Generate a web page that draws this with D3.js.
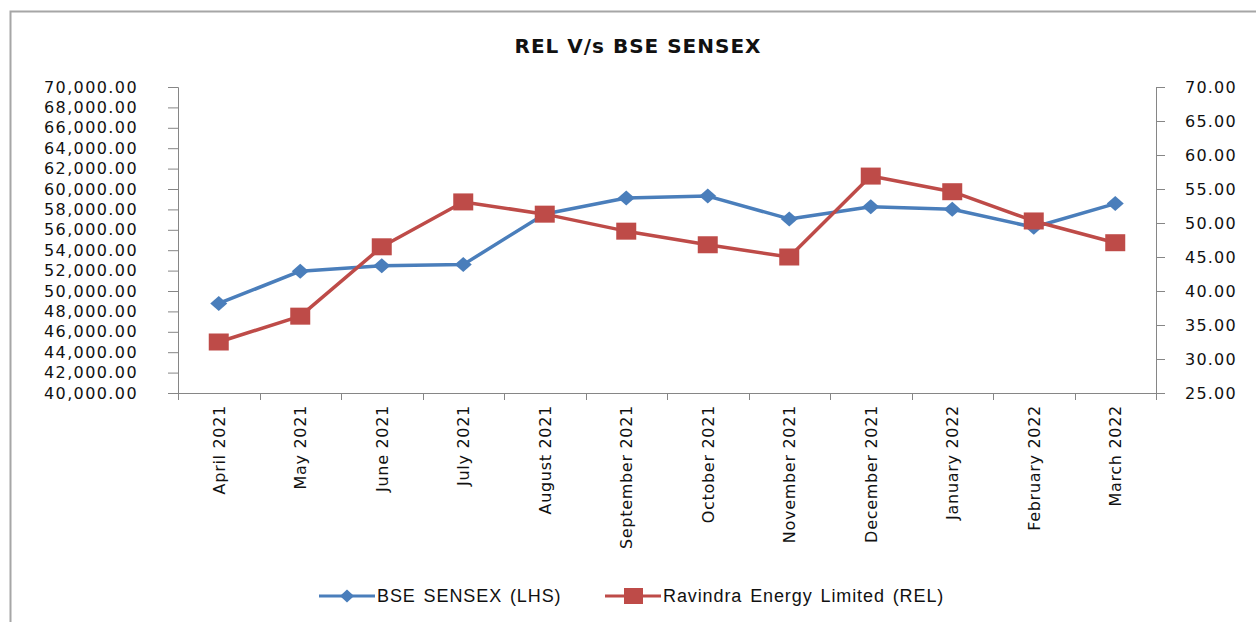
<!DOCTYPE html>
<html>
<head>
<meta charset="utf-8">
<script src="https://cdn.jsdelivr.net/npm/d3@7"></script>
<style>
  body { margin: 0; background: #fff; }
  svg { display: block; }
</style>
</head>
<body>
<div class="chart"></div>
<script>
// month labels + the two series
const months = ["April 2021", "May 2021", "June 2021", "July 2021", "August 2021", "September 2021",
  "October 2021", "November 2021", "December 2021", "January 2022", "February 2022", "March 2022"];
const sensex = [48782, 51937, 52482, 52587, 57552, 59126, 59307, 57065, 58254, 58014, 56247, 58569];
const relPrice = [32.5, 36.3, 46.5, 53.1, 51.3, 48.8, 46.8, 45.0, 56.9, 54.6, 50.3, 47.1];
const leftTicks = [40000, 42000, 44000, 46000, 48000, 50000, 52000, 54000, 56000, 58000,
  60000, 62000, 64000, 66000, 68000, 70000];
const rightTicks = [25, 30, 35, 40, 45, 50, 55, 60, 65, 70];
const seriesNames = ["BSE SENSEX (LHS)", "Ravindra Energy Limited (REL)"];

const width = 1256, height = 622;
const plot = { left: 178, right: 1156, top: 87, bottom: 393 };
const blue = "#4a7ebb", red = "#be4b48", axisCol = "#868686";
const font = "DejaVu Sans, Verdana, sans-serif";

const svg = d3.select("div.chart").append("svg")
  .attr("width", width)
  .attr("height", height);

// outer chart border (runs off the right / bottom edge in the original)
svg.append("rect")
  .attr("x", 10.5).attr("y", 11.5)
  .attr("width", width + 20).attr("height", height + 20)
  .attr("fill", "none")
  .attr("stroke", "#a6a6a6")
  .attr("stroke-width", 2);

svg.append("text")
  .attr("x", 638).attr("y", 53)
  .attr("text-anchor", "middle")
  .attr("font-family", font)
  .attr("font-weight", "bold")
  .attr("font-size", 20)
  .attr("letter-spacing", 1)
  .attr("fill", "#111")
  .text("REL V/s BSE SENSEX");

let x = d3.scaleBand().domain(months).range([plot.left, plot.right]);
let yLeft = d3.scaleLinear().domain([40000, 70000]).range([plot.bottom, plot.top]);
let yRight = d3.scaleLinear().domain([25, 70]).range([plot.bottom, plot.top]);
let cx = d => x(d) + x.bandwidth() / 2;

// left axis
let leftAxis = svg.append("g")
  .attr("transform", `translate(${plot.left},0)`)
  .call(d3.axisLeft(yLeft).tickValues(leftTicks).tickSize(10).tickPadding(30)
    .tickFormat(d3.format(",.2f")));

// right axis
let rightAxis = svg.append("g")
  .attr("transform", `translate(${plot.right},0)`)
  .call(d3.axisRight(yRight).tickValues(rightTicks).tickSize(9).tickPadding(20)
    .tickFormat(d3.format(".2f")));

[leftAxis, rightAxis].forEach(g => {
  g.select(".domain").attr("stroke", axisCol);
  g.selectAll(".tick line").attr("stroke", axisCol);
  g.selectAll(".tick text")
    .attr("font-family", font)
    .attr("font-size", 16)
    .attr("fill", "#111");
});
leftAxis.selectAll(".tick text").attr("letter-spacing", 1.4);
rightAxis.selectAll(".tick text").attr("letter-spacing", 1.2);

// category axis: ticks between months
let xAxis = svg.append("g");
xAxis.append("line")
  .attr("x1", plot.left).attr("x2", plot.right)
  .attr("y1", plot.bottom + 0.5).attr("y2", plot.bottom + 0.5)
  .attr("stroke", axisCol);
xAxis.selectAll("line.tk")
  .data(months.map(m => x(m)).concat([plot.right]))
  .enter().append("line")
  .attr("class", "tk")
  .attr("x1", d => Math.round(d) + 0.5).attr("x2", d => Math.round(d) + 0.5)
  .attr("y1", plot.bottom).attr("y2", plot.bottom + 7)
  .attr("stroke", axisCol);
xAxis.selectAll("text")
  .data(months)
  .enter().append("text")
  .attr("transform", d => `translate(${cx(d) + 6},${plot.bottom + 12}) rotate(-90)`)
  .attr("text-anchor", "end")
  .attr("font-family", font)
  .attr("font-size", 16)
  .attr("letter-spacing", 0.7)
  .attr("fill", "#111")
  .text(d => d);

// lines
let sensexLine = d3.line().x((d, i) => cx(months[i])).y(d => yLeft(d));
let relLine = d3.line().x((d, i) => cx(months[i])).y(d => yRight(d));

svg.append("path")
  .attr("d", sensexLine(sensex))
  .attr("fill", "none").attr("stroke", blue).attr("stroke-width", 3.5)
  .attr("stroke-linejoin", "round");
svg.append("path")
  .attr("d", relLine(relPrice))
  .attr("fill", "none").attr("stroke", red).attr("stroke-width", 3.5)
  .attr("stroke-linejoin", "round");

const diamond = (w, h) => `M0,${-h/2}L${w/2},0L0,${h/2}L${-w/2},0Z`;

svg.selectAll("path.dia")
  .data(sensex)
  .enter().append("path")
  .attr("class", "dia")
  .attr("d", diamond(17, 15))
  .attr("transform", (d, i) => `translate(${cx(months[i])},${yLeft(d)})`)
  .attr("fill", blue);

svg.selectAll("rect.sq")
  .data(relPrice)
  .enter().append("rect")
  .attr("class", "sq")
  .attr("x", (d, i) => cx(months[i]) - 10)
  .attr("y", d => yRight(d) - 8.5)
  .attr("width", 20).attr("height", 17)
  .attr("fill", red);

// legend
let legend = svg.append("g");
let legendItems = [
  { name: seriesNames[0], color: blue, x0: 319, mark: "diamond" },
  { name: seriesNames[1], color: red, x0: 605, mark: "square" }
];
let ly = 596;
legendItems.forEach(it => {
  legend.append("line")
    .attr("x1", it.x0).attr("x2", it.x0 + 56)
    .attr("y1", ly).attr("y2", ly)
    .attr("stroke", it.color).attr("stroke-width", 3);
  if (it.mark == "diamond") {
    legend.append("path")
      .attr("d", diamond(14, 13))
      .attr("transform", `translate(${it.x0 + 28},${ly})`)
      .attr("fill", it.color);
  } else {
    legend.append("rect")
      .attr("x", it.x0 + 19).attr("y", ly - 8)
      .attr("width", 19).attr("height", 16)
      .attr("fill", it.color);
  }
  legend.append("text")
    .attr("x", it.x0 + 58).attr("y", ly + 6)
    .attr("font-family", "Liberation Sans, Arial, sans-serif")
    .attr("font-size", 18)
    .attr("letter-spacing", 0.9)
    .attr("word-spacing", 2)
    .attr("fill", "#111")
    .text(it.name);
});
</script>
</body>
</html>
